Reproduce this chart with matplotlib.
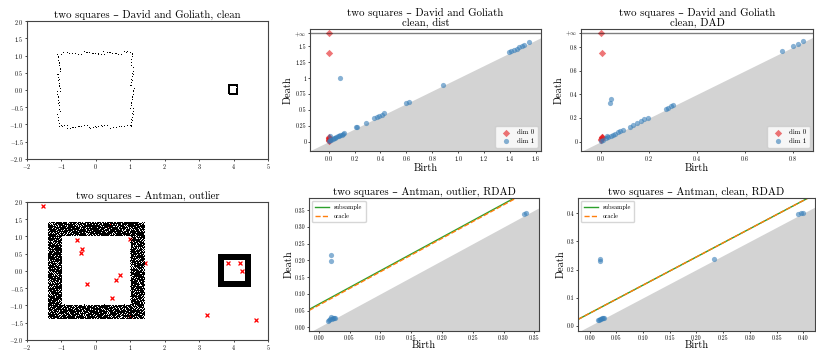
import numpy as np
import matplotlib
matplotlib.use("Agg")
import matplotlib.pyplot as plt

plt.rcParams['font.family'] = ['cmr10', 'DejaVu Serif']
plt.rcParams['mathtext.fontset'] = 'cm'
plt.rcParams['axes.formatter.use_mathtext'] = True
plt.rcParams['axes.unicode_minus'] = True

RED = '#e41a1c'
BLUE = '#377eb8'

# ---- point cloud geometry ----
big_square = (-1.08, 1.05)        # David, sparse boundary sample
big_noise = 0.05
n_big = 140
small_square_center = (3.97, 0.0)  # Goliath, tiny square
small_square_half = 0.125
n_small = 400

ant_big_outer, ant_big_inner = 1.40, 1.0      # Antman big annulus half widths
ant_small_center = (4.02, 0.0)
ant_small_outer, ant_small_inner = 0.47, 0.32
n_ant_big = 6500
n_ant_small = 5000

outlier_x = [-1.53, 0.37, -0.54, -0.41, -0.43, 0.98, 1.42, -0.25, 0.58, 0.69,
             0.47, 1.00, 3.24, 3.85, 4.18, 4.24, 4.66]
outlier_y = [1.89, 1.32, 0.89, 0.65, 0.51, 0.94, 0.22, -0.38, -0.25, -0.12,
             -0.78, -1.32, -1.28, 0.24, 0.24, 0.00, -1.43]

# ---- persistence diagrams ----
# David and Goliath, dist
dist_inf = 1.71
dist_d0_birth = [0.0, 0.0, 0.0, 0.0, 0.0, 0.0, 0.0, 0.0, 0.0]
dist_d0_death = [dist_inf, 1.39, 0.08, 0.06, 0.05, 0.04, 0.03, 0.02, 0.01]
dist_d1_birth = [0.0, 0.01, 0.02, 0.03, 0.04, 0.05, 0.06, 0.07, 0.08, 0.09, 0.10,
                 0.11, 0.12, 0.01, 0.09, 0.21, 0.22, 0.29, 0.35, 0.37, 0.39, 0.41,
                 0.43, 0.60, 0.62, 0.88, 1.39, 1.41, 1.43, 1.45, 1.47, 1.49, 1.51, 1.55]
dist_d1_death = [0.012, 0.022, 0.032, 0.042, 0.052, 0.062, 0.072, 0.082, 0.092, 0.102,
                 0.112, 0.122, 0.132, 0.085, 1.01, 0.225, 0.235, 0.30, 0.365, 0.385,
                 0.40, 0.425, 0.445, 0.615, 0.63, 0.892, 1.41, 1.43, 1.45, 1.465,
                 1.485, 1.505, 1.525, 1.565]

# David and Goliath, DAD
dad_inf = 0.919
dad_d0_birth = [0.0, 0.003, 0.0, 0.002, 0.004, 0.006, 0.003]
dad_d0_death = [dad_inf, 0.749, 0.012, 0.02, 0.028, 0.036, 0.04]
dad_d1_birth = [0.036, 0.042, 0.0, 0.01, 0.02, 0.03, 0.04, 0.05, 0.06, 0.07, 0.08,
                0.09, 0.025, 0.12, 0.135, 0.15, 0.165, 0.18, 0.195, 0.27, 0.28, 0.29,
                0.30, 0.755, 0.80, 0.82, 0.84]
dad_d1_death = [0.323, 0.357, 0.008, 0.018, 0.028, 0.038, 0.048, 0.058, 0.068, 0.078,
                0.088, 0.098, 0.05, 0.128, 0.143, 0.158, 0.173, 0.188, 0.203, 0.278,
                0.288, 0.298, 0.31, 0.763, 0.807, 0.828, 0.848]

# Antman, outlier, RDAD
rout_d1_birth = [0.020, 0.020, 0.015, 0.017, 0.019, 0.021, 0.023, 0.025, 0.027, 0.020, 0.333, 0.337]
rout_d1_death = [0.215, 0.198, 0.020, 0.022, 0.024, 0.026, 0.027, 0.028, 0.029, 0.030, 0.340, 0.341]
rout_sub_shift = 0.069
rout_oracle_shift = 0.066

# Antman, clean, RDAD
rcl_d1_birth = [0.020, 0.020, 0.015, 0.017, 0.019, 0.021, 0.023, 0.025, 0.027, 0.232, 0.390, 0.395, 0.400]
rcl_d1_death = [0.238, 0.232, 0.020, 0.022, 0.024, 0.026, 0.027, 0.028, 0.029, 0.236, 0.398, 0.400, 0.402]
rcl_sub_shift = 0.045
rcl_oracle_shift = 0.045

TITLE_FS = 7.8
LABEL_FS = 7.5
TICK_FS = 4.3


def r2(n, offset=0):
    # deterministic low discrepancy sequence in the unit square
    g = 1.32471795724474602596
    k = np.arange(offset, offset + n)
    return (0.5 + k / g) % 1.0, (0.5 + k / g ** 2) % 1.0


def radical_inverse(k, base):
    out = np.zeros(len(k))
    f = 1.0 / base
    k = k.copy()
    while np.any(k > 0):
        out += f * (k % base)
        k //= base
        f /= base
    return out


def halton(n, offset=0):
    k = np.arange(offset + 1, offset + n + 1)
    return radical_inverse(k, 5), radical_inverse(k, 7)


def square_boundary(lo, hi, noise, n, offset=0):
    u, v = r2(n, offset)
    side = hi - lo
    t = u * 4 * side
    edge = (t // side).astype(int)
    s = t % side
    x = np.select([edge == 0, edge == 1, edge == 2], [lo + s, np.full(n, hi), hi - s], np.full(n, lo))
    y = np.select([edge == 0, edge == 1, edge == 2], [np.full(n, lo), lo + s, np.full(n, hi)], hi - s)
    d = (v - 0.5) * 2 * noise
    x = x + np.where(edge % 2 == 1, d, 0)
    y = y + np.where(edge % 2 == 0, d, 0)
    return x, y


def annulus(cx, cy, outer, inner, n, offset=0):
    u, v = halton(int(n / (1 - (inner / outer) ** 2)) + 1, offset)
    x = (u * 2 - 1) * outer
    y = (v * 2 - 1) * outer
    keep = np.maximum(np.abs(x), np.abs(y)) > inner
    return x[keep] + cx, y[keep] + cy


def style(ax):
    ax.tick_params(labelsize=TICK_FS, length=1.5, width=0.5, pad=1)
    for s in ax.spines.values():
        s.set_linewidth(0.8)
        s.set_color('#444444')


def diagram(ax, xlim, ylim, inf=None):
    xs = np.array(xlim)
    ax.fill_between(xs, ylim[0], xs, color='#d3d3d3', lw=0, zorder=0)
    if inf is not None:
        ax.plot(xs, [inf, inf], color='k', lw=1.0, alpha=0.5)
    ax.set_xlim(xlim)
    ax.set_ylim(ylim)
    ax.set_xlabel('Birth', fontsize=LABEL_FS, labelpad=0)
    ax.set_ylabel('Death', fontsize=LABEL_FS, labelpad=1)
    style(ax)


fig = plt.figure(figsize=(8.16, 3.53), dpi=100)

# --- top left: point cloud ---
ax = fig.add_axes([0.0331, 0.5496, 0.2953, 0.3909])
bx, by = square_boundary(big_square[0], big_square[1], big_noise, n_big)
sx, sy = square_boundary(-small_square_half, small_square_half, 0.018, n_small, offset=500)
ax.plot(bx, by, ',', color='k')
ax.plot(sx + small_square_center[0], sy + small_square_center[1], ',', color='k')
ax.set_xlim(-2, 5)
ax.set_ylim(-2, 2)
ax.set_title('two squares – David and Goliath, clean', fontsize=TITLE_FS, pad=2)
style(ax)

# --- top middle: dist ---
ax = fig.add_axes([0.3799, 0.5722, 0.2831, 0.3456])
diagram(ax, (-0.144, 1.639), (-0.148, 1.775), dist_inf)
ax.scatter(dist_d0_birth, dist_d0_death, s=14, marker='D', c=RED, alpha=0.6, lw=0, label='dim 0')
ax.scatter(dist_d1_birth, dist_d1_death, s=14, marker='o', c=BLUE, alpha=0.6, lw=0, label='dim 1')
yt = [0, 0.25, 0.5, 0.75, 1, 1.25, 1.5, dist_inf]
ax.set_yticks(yt)
ax.set_yticklabels(['%g' % v for v in yt[:-1]] + [r'$+\infty$'])
ax.set_xticks(np.arange(0, 1.61, 0.2))
ax.set_title('two squares – David and Goliath\nclean, dist', fontsize=TITLE_FS, pad=2, linespacing=1.05)
ax.legend(loc='lower right', fontsize=5, handletextpad=0.6, borderpad=0.5, labelspacing=0.4)

# --- top right: DAD ---
ax = fig.add_axes([0.7120, 0.5722, 0.2843, 0.3456])
diagram(ax, (-0.083, 0.883), (-0.079, 0.953), dad_inf)
ax.scatter(dad_d0_birth, dad_d0_death, s=14, marker='D', c=RED, alpha=0.6, lw=0, label='dim 0')
ax.scatter(dad_d1_birth, dad_d1_death, s=14, marker='o', c=BLUE, alpha=0.6, lw=0, label='dim 1')
yt = [0, 0.2, 0.4, 0.6, 0.8, dad_inf]
ax.set_yticks(yt)
ax.set_yticklabels(['%g' % v for v in yt[:-1]] + [r'$+\infty$'])
ax.set_xticks(np.arange(0, 0.81, 0.2))
ax.set_title('two squares – David and Goliath\nclean, DAD', fontsize=TITLE_FS, pad=2, linespacing=1.05)
ax.legend(loc='lower right', fontsize=5, handletextpad=0.6, borderpad=0.5, labelspacing=0.4)

# --- bottom left: Antman with outliers ---
ax = fig.add_axes([0.0331, 0.0370, 0.2953, 0.3908])
ax1x, ax1y = annulus(0, 0, ant_big_outer, ant_big_inner, n_ant_big)
ax2x, ax2y = annulus(ant_small_center[0], ant_small_center[1], ant_small_outer, ant_small_inner, n_ant_small, offset=20000)
ax.plot(ax1x, ax1y, ',', color='k')
ax.plot(ax2x, ax2y, ',', color='k')
ax.scatter(outlier_x, outlier_y, s=8, c='red', marker='x', lw=0.9)
ax.set_xlim(-2, 5)
ax.set_ylim(-2, 2)
ax.set_title('two squares – Antman, outlier', fontsize=TITLE_FS, pad=2)
style(ax)

# --- bottom middle: RDAD outlier ---
ax = fig.add_axes([0.3787, 0.0615, 0.2819, 0.3776])
xl = (-0.0157, 0.3576)
diagram(ax, xl, (-0.0119, 0.3867))
xs = np.array(xl)
ax.plot(xs, xs + rout_sub_shift, color='#2ca02c', lw=1.0, label='subsample')
ax.plot(xs, xs + rout_oracle_shift, color='#ff7f0e', lw=1.0, ls='--', label='oracle')
ax.scatter(rout_d1_birth, rout_d1_death, s=14, marker='o', c=BLUE, alpha=0.6, lw=0)
ticks = np.arange(0, 0.351, 0.05)
ax.set_xticks(ticks)
ax.set_yticks(ticks)
ax.set_xticklabels(['%.2f' % v for v in ticks])
ax.set_yticklabels(['%.2f' % v for v in ticks])
ax.set_title('two squares – Antman, outlier, RDAD', fontsize=TITLE_FS, pad=2)
ax.legend(loc='upper left', fontsize=4.5, handlelength=2.2, borderpad=0.5)

# --- bottom right: RDAD clean ---
ax = fig.add_axes([0.7083, 0.0615, 0.2904, 0.3776])
xl = (-0.0218, 0.4218)
diagram(ax, xl, (-0.0188, 0.454))
xs = np.array(xl)
ax.plot(xs, xs + rcl_sub_shift, color='#2ca02c', lw=1.0, label='subsample')
ax.plot(xs, xs + rcl_oracle_shift, color='#ff7f0e', lw=1.0, ls='--', label='oracle')
ax.scatter(rcl_d1_birth, rcl_d1_death, s=14, marker='o', c=BLUE, alpha=0.6, lw=0)
xt = np.arange(0, 0.401, 0.05)
ax.set_xticks(xt)
ax.set_xticklabels(['%.2f' % v for v in xt])
yt = np.arange(0, 0.41, 0.1)
ax.set_yticks(yt)
ax.set_yticklabels(['%.1f' % v for v in yt])
ax.set_title('two squares – Antman, clean, RDAD', fontsize=TITLE_FS, pad=2)
ax.legend(loc='upper left', fontsize=4.5, handlelength=2.2, borderpad=0.5)

fig.savefig('out.png', dpi=100)
